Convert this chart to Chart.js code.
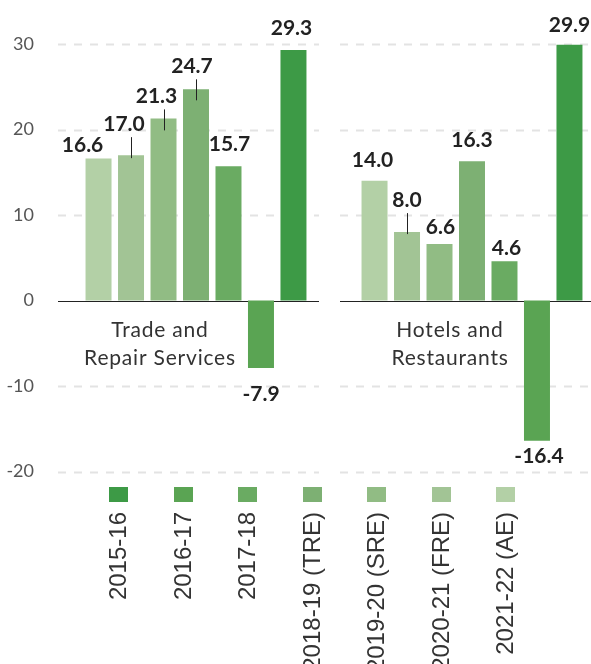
<!DOCTYPE html>
<html lang="en">
<head>
<meta charset="UTF-8">
<title>Trade and Repair Services, Hotels and Restaurants</title>
<script src="https://cdn.jsdelivr.net/npm/chart.js@4/dist/chart.umd.min.js"></script>
<style>
  html, body { margin: 0; padding: 0; background: #fff; overflow: hidden; }
  #wrap { width: 610px; height: 664px; }
</style>
</head>
<body>
<div id="wrap"><canvas id="chart" width="610" height="664"></canvas></div>
<script>
// data, by year (chronological)
const sectors = [['Trade and', 'Repair Services'], ['Hotels and', 'Restaurants']];
const years = ['2015-16', '2016-17', '2017-18', '2018-19 (TRE)', '2019-20 (SRE)', '2020-21 (FRE)', '2021-22 (AE)'];
const tradeRepair = [29.3, -7.9, 15.7, 24.7, 21.3, 17.0, 16.6];
const hotelsRestaurants = [29.9, -16.4, 4.6, 16.3, 6.6, 8.0, 14.0];
const yTicks = [-20, -10, 0, 10, 20, 30];

// styles
const colours = ['#3d9a46', '#5aa453', '#6aab62', '#7db073', '#91bc84', '#a2c495', '#b3d0a6'];
// label nudges in bar order (left to right) per sector
const nudges = [
  [{dx: -16, dy: 13}, {dx: -7, dy: 31, lead: true}, {dx: -7, dy: 22, lead: true}, {dx: -4, dy: 23, lead: true},
   {dx: 1, dy: 22}, {dx: 0, dy: 26}, {dx: -2, dy: 22}],
  [{dx: -2, dy: 21}, {dx: 0, dy: 32, lead: true}, {dx: 1, dy: 17}, {dx: 0, dy: 21},
   {dx: 2, dy: 13}, {dx: 2, dy: 16}, {dx: 0, dy: 20}]
];
const sectorDx = [-36, -22];

// bars are drawn lightest (latest year) first
const datasets = [];
for (let i = years.length - 1; i >= 0; i--) {
  datasets.push({
    label: years[i],
    data: [tradeRepair[i], hotelsRestaurants[i]],
    backgroundColor: colours[i],
    borderWidth: 0,
    categoryPercentage: 0.824,
    barPercentage: 0.8
  });
}

const gridPlugin = {
  id: 'grid',
  beforeDatasetsDraw(chart) {
    const ctx = chart.ctx, xs = chart.scales.x, ys = chart.scales.y, ca = chart.chartArea;
    const mid = (xs.getPixelForValue(0) + xs.getPixelForValue(1)) / 2;
    const segs = [[ca.left, mid - 15], [mid + 6, ca.right]];
    ctx.save();
    yTicks.forEach(t => {
      const y = Math.round(ys.getPixelForValue(t)) + 0.5;
      if (t === 0) {
        ctx.strokeStyle = '#222';
        ctx.lineWidth = 1;
        ctx.setLineDash([]);
      } else {
        ctx.strokeStyle = '#e3e3e3';
        ctx.lineWidth = 2;
        ctx.setLineDash([8, 8]);
      }
      segs.forEach(s => {
        ctx.beginPath();
        ctx.moveTo(s[0], y);
        ctx.lineTo(s[1], y);
        ctx.stroke();
      });
    });
    ctx.restore();
  }
};

const labelPlugin = {
  id: 'labels',
  afterDatasetsDraw(chart) {
    const ctx = chart.ctx, xs = chart.scales.x, ys = chart.scales.y;
    ctx.save();
    ctx.textAlign = 'center';
    ctx.textBaseline = 'middle';
    ctx.font = 'bold 21px Lato';
    chart.data.datasets.forEach((ds, di) => {
      chart.getDatasetMeta(di).data.forEach((bar, ci) => {
        const v = ds.data[ci];
        const n = nudges[ci][di];
        const ly = v >= 0 ? bar.y - n.dy : bar.y + n.dy;
        ctx.fillStyle = '#222';
        ctx.fillText(v.toFixed(1), bar.x + n.dx, ly);
        if (n.lead) {
          ctx.strokeStyle = '#222';
          ctx.lineWidth = 1;
          ctx.beginPath();
          ctx.moveTo(Math.round(bar.x) + 0.5, ly + 13);
          ctx.lineTo(Math.round(bar.x) + 0.5, ly + 34);
          ctx.stroke();
        }
      });
    });

    // sector names under the zero line
    const y0 = ys.getPixelForValue(0);
    ctx.font = '21px Lato';
    ctx.letterSpacing = '0.8px';
    ctx.fillStyle = '#333';
    sectors.forEach((lines, i) => {
      const x = xs.getPixelForValue(i) + sectorDx[i];
      lines.forEach((t, k) => ctx.fillText(t, x, y0 + 30 + k * 28));
    });
    ctx.letterSpacing = '0px';

    // legend with rotated labels
    const top = chart.chartArea.bottom + 15.5;
    years.forEach((y, i) => {
      const cx = 118.5 + i * 64.5;
      ctx.fillStyle = colours[i];
      ctx.fillRect(Math.round(cx - 9.5), Math.round(top), 19, 15);
      ctx.save();
      ctx.translate(cx, top + 25);
      ctx.rotate(-Math.PI / 2);
      ctx.font = '24px "Liberation Sans", Arial, sans-serif';
      ctx.fillStyle = '#333';
      ctx.textAlign = 'right';
      ctx.textBaseline = 'middle';
      ctx.fillText(y, 0, 1);
      ctx.restore();
    });
    ctx.restore();
  }
};

new Chart(document.getElementById('chart'), {
  type: 'bar',
  data: { labels: sectors.map(s => s.join(' ')), datasets: datasets },
  options: {
    responsive: false,
    animation: false,
    layout: { padding: { top: 44, bottom: 192.5, left: 0, right: 0 } },
    plugins: { legend: { display: false }, tooltip: { enabled: false } },
    scales: {
      x: { display: false },
      y: {
        min: -20,
        max: 30,
        afterBuildTicks(s) { s.ticks = yTicks.map(v => ({ value: v })); },
        afterFit(s) { s.width = 58; },
        grid: { display: false },
        border: { display: false },
        ticks: { color: '#555', padding: 16, font: { family: 'Lato', size: 18 } }
      }
    }
  },
  plugins: [gridPlugin, labelPlugin]
});
</script>
</body>
</html>
